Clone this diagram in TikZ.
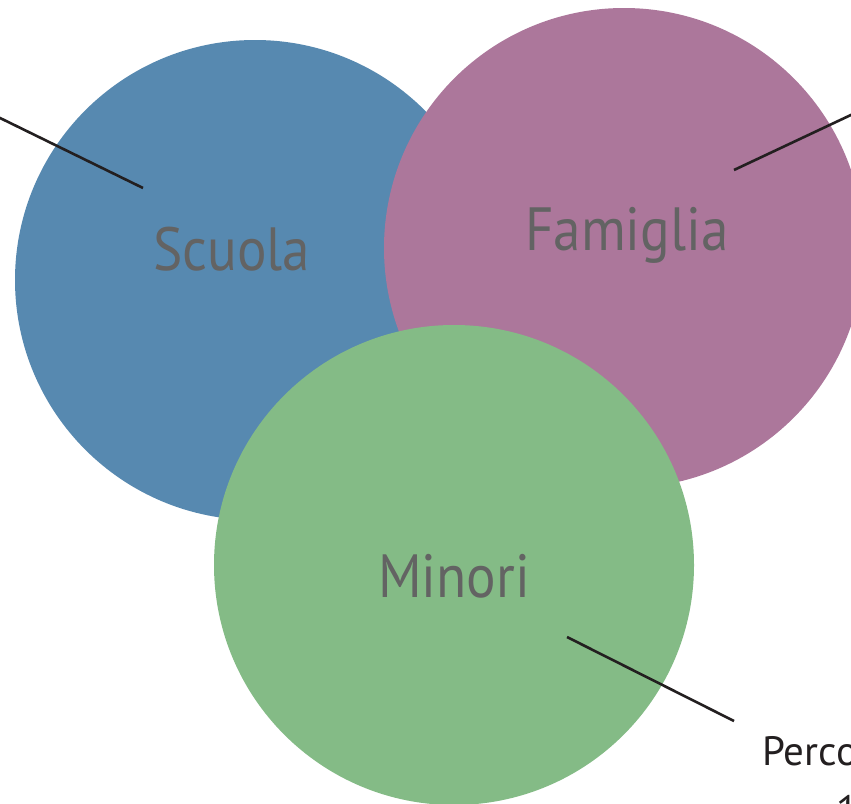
\documentclass[tikz,border=0pt]{standalone}
\usepackage{fontspec}
\setmainfont{PT Sans}
\newfontfamily\lblfont[FakeStretch=0.905]{PT Sans}
\definecolor{cblue}{HTML}{5789B0}
\definecolor{cpurple}{HTML}{AC779B}
\definecolor{cgreen}{HTML}{84BB86}
\definecolor{ctext}{HTML}{636363}
\definecolor{cline}{HTML}{231F20}
\begin{document}
\begin{tikzpicture}[x=1pt,y=-1pt,
  circ/.style={circle,minimum size=480pt,inner sep=0pt,draw=none},
  lbl/.style={anchor=base west,inner sep=0pt,text=ctext,font=\lblfont\fontsize{61}{72}\selectfont},
  callout/.style={anchor=base west,inner sep=0pt,text=cline,font=\fontsize{41}{50}\selectfont},
  lead/.style={draw=cline,line width=2.6pt}]
\useasboundingbox (0,0) rectangle (851,803);
\node[circ,fill=cblue] (scuola) at (255,280) {};
\node[circ,fill=cpurple] (famiglia) at (624,248) {};
\node[circ,fill=cgreen] (minori) at (454,565) {};
\node[lbl] (tS) at (153,270) {Scuola};
\node[lbl] (tF) at (525,250) {Famiglia};
\node[lbl] (tM) at (378,597) {Minori};
\node[callout] (perco) at (762,765) {Perco};
\node[callout] (uno) at (836,824) {1};
\coordinate (aS) at (143,188);
\coordinate (bS) at (-2,117);
\coordinate (aF) at (734,170);
\coordinate (bF) at (853,114);
\coordinate (aM) at (567,637);
\coordinate (bM) at (734,721);
\draw[lead] (aS) -- (bS);
\draw[lead] (aF) -- (bF);
\draw[lead] (aM) -- (bM);
\end{tikzpicture}
\end{document}
